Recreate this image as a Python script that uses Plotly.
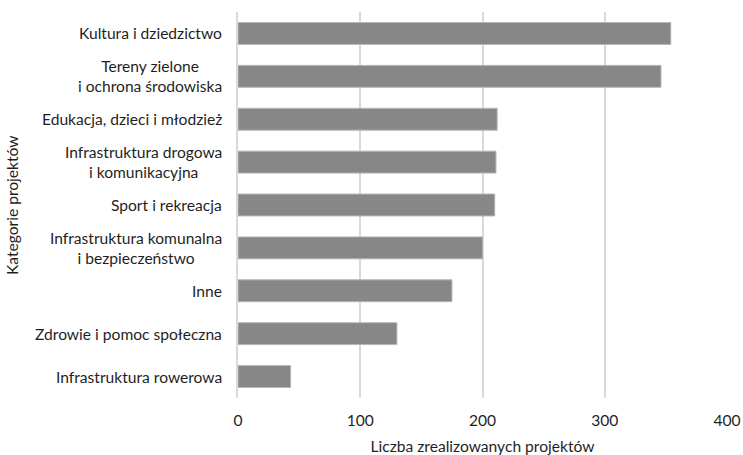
import plotly.graph_objects as go

# Project categories (top to bottom) and number of completed projects
categories = [
    "Kultura i dziedzictwo",
    "Tereny zielone<br>i ochrona środowiska",
    "Edukacja, dzieci i młodzież",
    "Infrastruktura drogowa<br>i komunikacyjna",
    "Sport i rekreacja",
    "Infrastruktura komunalna<br>i bezpieczeństwo",
    "Inne",
    "Zdrowie i pomoc społeczna",
    "Infrastruktura rowerowa",
]
projects = [354, 346, 212, 211, 210, 200, 175, 130, 43]
x_ticks = [0, 100, 200, 300, 400]

FONT = "Lato"
SIZE = 15.6
TEXT = "#1f1f1f"

fig = go.Figure(
    go.Bar(
        x=projects,
        y=categories,
        orientation="h",
        marker=dict(color="#878787", line=dict(color="#b5b5b5", width=1)),
        width=0.51,
    )
)

# Category labels: right-anchored blocks with centred lines
for cat in categories:
    fig.add_annotation(
        x=0, xref="paper", y=cat, yref="y",
        text=cat, showarrow=False,
        xanchor="right", yanchor="middle", align="center",
        xshift=-14,
        font=dict(family=FONT, size=SIZE, color=TEXT),
    )

fig.update_layout(
    width=743, height=455,
    margin=dict(l=238, r=16, t=12, b=57),
    paper_bgcolor="white", plot_bgcolor="white",
    showlegend=False,
    font=dict(family=FONT, size=SIZE, color=TEXT),
    xaxis=dict(
        range=[0, 400], tickvals=x_ticks, automargin=False,
        showgrid=True, gridcolor="#d9d9d9", gridwidth=1.5,
        zeroline=False, showline=False,
        ticks="", ticklabelstandoff=11,
        tickfont=dict(family=FONT, size=SIZE, color=TEXT),
        title=dict(text="Liczba zrealizowanych projektów", standoff=13,
                   font=dict(family=FONT, size=SIZE, color=TEXT)),
    ),
    yaxis=dict(
        categoryorder="array", categoryarray=categories[::-1],
        range=[-0.5, len(categories) - 0.5], automargin=False,
        showticklabels=False, showgrid=False, zeroline=False,
        showline=True, linecolor="#d9d9d9", linewidth=1.5,
    ),
)

fig.add_annotation(
    x=0, xref="paper", y=0.5, yref="paper",
    text="Kategorie projektów", showarrow=False, textangle=-90,
    xanchor="center", yanchor="middle", xshift=-226,
    font=dict(family=FONT, size=SIZE, color=TEXT),
)

fig.write_html("out.html")
